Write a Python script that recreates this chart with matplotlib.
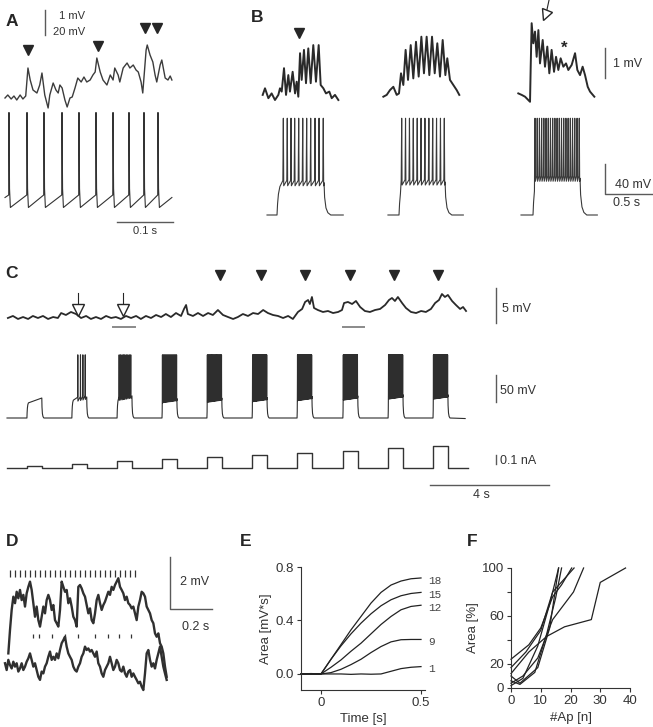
import numpy as np
import matplotlib
matplotlib.use("Agg")
import matplotlib.pyplot as plt
from matplotlib.markers import MarkerStyle
from matplotlib.transforms import Affine2D

plt.rcParams['font.family'] = ['Liberation Sans', 'DejaVu Sans']

W, H = 653, 727
INK = '#262626'
GREY = '#5a5a5a'

# ---------------- A: field potential (mV) over time (ms) + spikes ----------------
a_t = [0, 5, 11, 16, 21, 27, 32, 37, 41, 45, 50, 57, 62, 66, 71, 77, 80, 86, 91, 95,
       98, 102, 107, 111, 116, 120, 125, 130, 136, 141, 146, 152, 157, 161, 164, 170,
       175, 182, 188, 193, 196, 202, 205, 211, 218, 223, 229, 234, 238, 243, 246, 252,
       254, 259, 264, 268, 271, 277, 280, 286, 291, 295, 298]
a_v = [0.08, 0.2, 0.04, 0.16, 0.0, 0.2, 0.04, 0.16, 1.28, 0.8, 0.4, 0.28, 0.6, 1.08,
       0.2, -0.32, 0.2, 0.68, 0.4, 0.28, 0.6, 0.48, 0.0, -0.28, 0.08, 0.12, 0.48, 0.88,
       0.72, 0.92, 0.72, 0.8, 1.0, 1.12, 1.68, 1.12, 0.8, 0.6, 1.0, 0.8, 1.28, 1.0, 0.72,
       1.28, 1.48, 1.28, 1.4, 1.2, 1.12, 0.72, 0.28, 2.0, 2.2, 1.8, 1.52, 1.0, 0.72, 1.4,
       1.6, 0.88, 0.8, 0.96, 0.8]
a_spikes = [7.1, 39.3, 69.6, 101.8, 132.1, 162.5, 192.9, 221.4, 248.2, 273.2]
a_marker_t = [41, 166, 250, 271]
a_marker_v = [2.0, 2.16, 2.88, 2.88]

# ---------------- B: field potential (mV) and membrane potential, 3 stimuli ----------------
b1_t = [-0.149, -0.125, -0.090, -0.056, -0.021, 0.014, 0.031, 0.049, 0.073, 0.094,
        0.118, 0.135, 0.163, 0.188, 0.205, 0.222, 0.240, 0.257, 0.281, 0.302, 0.326,
        0.351, 0.378, 0.406, 0.434, 0.455, 0.483, 0.510, 0.545, 0.570, 0.604, 0.639]
b1_v = [0.17, 0.39, 0.06, 0.22, 0.0, 0.17, 0.39, 0.28, 1.06, 0.17, 0.83, 0.28, 0.94,
        0.22, 0.61, 0.11, 1.56, 0.67, 1.67, 0.56, 1.72, 0.56, 1.83, 0.61, 1.83, 0.5,
        0.39, 0.22, 0.28, 0.06, 0.17, 0.0]
b2_t = [-0.163, -0.128, -0.094, -0.059, -0.024, 0.0, 0.021, 0.045, 0.069, 0.094, 0.122,
        0.149, 0.177, 0.205, 0.233, 0.260, 0.288, 0.316, 0.344, 0.372, 0.399, 0.427,
        0.455, 0.483, 0.503, 0.531, 0.566, 0.601, 0.628]
b2_v = [0.11, 0.17, 0.33, 0.44, 0.17, 0.22, 0.89, 0.5, 1.67, 0.67, 1.83, 0.72, 1.94,
        0.78, 2.11, 0.89, 2.11, 0.83, 2.11, 0.89, 1.89, 0.78, 2.0, 0.83, 1.39, 0.67,
        0.5, 0.33, 0.17]
b3_t = [-0.153, -0.118, -0.083, -0.031, -0.024, -0.014, 0.003, 0.021, 0.038, 0.056,
        0.073, 0.101, 0.125, 0.149, 0.170, 0.194, 0.219, 0.240, 0.264, 0.288, 0.316,
        0.344, 0.368, 0.403, 0.438, 0.462, 0.490, 0.517, 0.542, 0.570, 0.594, 0.639]
b3_v = [0.22, 0.17, 0.11, -0.06, 1.11, 2.56, 1.89, 2.28, 1.44, 2.33, 1.22, 2.0, 1.11,
        1.78, 0.89, 1.67, 0.94, 1.44, 1.0, 1.39, 1.11, 1.22, 1.0, 1.17, 1.56, 1.0, 0.83,
        1.11, 0.83, 0.44, 0.28, 0.11]
b_spikes = [
    [0.066, 0.107, 0.146, 0.184, 0.226, 0.268, 0.309, 0.351, 0.396, 0.438, 0.482],
    [0.028, 0.068, 0.109, 0.149, 0.190, 0.230, 0.270, 0.311, 0.351, 0.391, 0.432, 0.472],
    [0.021, 0.044, 0.067, 0.090, 0.113, 0.136, 0.159, 0.182, 0.205, 0.228, 0.251,
     0.274, 0.297, 0.320, 0.343, 0.366, 0.389, 0.412, 0.435, 0.459, 0.482],
]
b_step_dur = [0.49, 0.48, 0.49]
b_starts = [-0.104, -0.115, -0.125]
b_ends = [0.69, 0.67, 0.67]
b_plateau = [-27, -26, -21]
b_rest, b_peak = -70, 59

# ---------------- C: field potential, membrane potential, injected current ----------------
c_top_t = [0.03, 0.20, 0.37, 0.54, 0.71, 0.87, 1.04, 1.21, 1.38, 1.55, 1.71,
           1.82, 1.98, 2.15, 2.32, 2.49, 2.66, 2.82, 2.99, 3.16, 3.33, 3.50, 3.66, 3.83,
           4.00, 4.17, 4.34, 4.50, 4.67, 4.84, 5.01, 5.18, 5.34, 5.51, 5.68, 5.85,
           5.95, 6.02, 6.08,
           6.25, 6.42, 6.59, 6.76, 6.92, 7.09, 7.26, 7.43, 7.60, 7.76, 7.93, 8.10, 8.27,
           8.44, 8.61, 8.77, 8.94, 9.11, 9.28, 9.45, 9.61, 9.78,
           9.92, 10.02, 10.12, 10.18, 10.25, 10.32, 10.45,
           10.62, 10.79, 10.96, 11.13, 11.26, 11.33, 11.46, 11.60, 11.73, 11.87,
           12.03, 12.20, 12.37, 12.54, 12.71, 12.84, 12.94, 13.04, 13.14, 13.28,
           13.41, 13.58, 13.75, 13.92, 14.08, 14.25, 14.39, 14.52, 14.62, 14.72,
           14.82, 14.96, 15.09, 15.23, 15.33, 15.43]
c_top_v = [0, 0.29, -0.14, 0.14, -0.14, 0.29, 0, 0.29, -0.14, 0.14, 0,
           0.71, 0.43, 0.86, 0.57, 0, 0.29, -0.14, 0.14, -0.14, 0.29, 0, 0.14, -0.14,
           0.29, 0, 0.29, -0.14, 0.29, 0, 0.43, 0.14, 0.57, 0.14, 0.71, 0.29,
           1.29, 1.86, 0.57,
           0.29, 0.71, 0.29, 0.71, 0.43, 1.14, 0.43, 0.14, -0.14, 0.14, 0.57, 0.29, 0.71,
           0.57, 1.14, 0.71, 0.43, 0.29, 0, 0.29, -0.14, 0.86,
           1.29, 2.29, 2.57, 2.0, 3.0, 1.43, 1.14,
           0.86, 1.0, 0.71, 0.86, 1.14, 2.14, 2.29, 2.0, 2.43, 1.57,
           1.0, 0.86, 1.14, 1.29, 1.86, 2.57, 2.86, 2.43, 3.0, 2.14,
           1.43, 0.86, 0.71, 1.0, 0.86, 1.29, 2.14, 2.57, 3.43, 3.0,
           3.29, 2.43, 1.86, 1.29, 1.57, 1.0]
c_onsets = [0.67, 2.18, 3.70, 5.21, 6.72, 8.24, 9.75, 11.29, 12.81, 14.32]
c_step_dur = 0.5
c_current = [0.02, 0.05, 0.075, 0.10, 0.12, 0.145, 0.17, 0.19, 0.22, 0.245]
c_plateau_start = [-42, -37, -34, -38, -37, -36, -34, -33, -31, -31]
c_plateau_end = [-33, -31, -29, -34, -33, -32, -30, -29, -27, -27]
c_spikes_early = [[], [0.20, 0.29, 0.37, 0.45],
                  [0.07, 0.12, 0.17, 0.22, 0.26, 0.31, 0.36, 0.41, 0.46]]
c_burst_counts = [14, 18, 20, 22, 24, 25, 26]
c_rest, c_spike_peak = -70, 47
c_trace_end = 15.4
c_filled_t = [7.16, 8.54, 10.02, 11.53, 13.01, 14.49]
c_open_t = [2.39, 3.90]
c_underlines = [(3.56, 4.30), (11.29, 12.0)]

# ---------------- D: two field potential sweeps (mV), sampled every 1/126 s ----------------
d_dt = 1 / 126
d_up_t0 = 0.0016
d_up_v = [0.37, 1.27, 2.04, 2.55, 2.30, 2.74, 2.49, 2.81, 2.42, 2.62,
          2.17, 2.68, 2.93, 3.13, 2.81, 2.30, 1.78, 2.17, 1.65, 1.40,
          1.78, 2.17, 1.91, 2.42, 2.62, 2.42, 2.04, 2.23, 1.65, 1.53,
          1.40, 2.04, 3.13, 2.93, 2.74, 2.81, 2.30, 2.49, 2.17, 1.78,
          1.65, 1.40, 2.93, 3.00, 2.87, 2.68, 2.55, 2.23, 1.91, 2.10,
          1.65, 1.53, 1.91, 2.42, 2.62, 2.30, 2.04, 2.23, 2.36, 2.55,
          2.74, 2.62, 2.93, 2.81, 3.00, 3.13, 3.26, 2.93, 2.81, 2.68,
          2.42, 2.55, 2.30, 2.23, 2.10, 2.17, 1.91, 1.65, 2.17, 2.42,
          2.74, 2.68, 2.55, 2.17, 2.04, 1.91, 1.65, 1.53, 1.14, 1.01,
          1.14, 0.76, 0.63, 0.37, -0.14, -0.53]
d_low_t0 = -0.0143
d_low_v = [-0.01, -0.27, 0.12, -0.08, -0.21, 0.05, -0.14, -0.01, -0.33, -0.21,
           -0.01, -0.27, -0.14, 0.05, 0.18, 0.37, 0.12, -0.14, -0.01, -0.27,
           -0.53, -0.65, -0.33, -0.40, -0.14, -0.01, 0.24, 0.44, 0.12, 0.24,
           0.12, 0.37, 0.18, 0.50, 0.76, 0.88, 1.01, 0.63, 0.37, 0.24,
           0.12, -0.14, -0.27, -0.33, -0.14, -0.01, 0.24, 0.37, 0.63, 0.50,
           0.56, 0.44, 0.50, 0.37, 0.24, 0.44, -0.01, -0.14, -0.40, -0.53,
           -0.27, -0.14, -0.01, 0.24, -0.01, -0.27, -0.14, 0.12, -0.01, -0.27,
           -0.33, -0.14, -0.40, -0.53, -0.33, -0.27, -0.53, -0.40, -0.53, -0.65,
           -0.78, -0.72, -0.91, -1.04, -0.40, 0.37, 0.50, 0.12, -0.14, -0.01,
           -0.21, 0.12, 0.37, 0.63, 0.24, -0.14, -0.40, -0.65]
d_stim_top = [0.010, 0.033, 0.057, 0.081, 0.105, 0.129, 0.152, 0.176, 0.200, 0.224,
              0.248, 0.271, 0.295, 0.319, 0.343, 0.367, 0.390, 0.414, 0.438, 0.462,
              0.486, 0.509, 0.533, 0.557, 0.581, 0.605]
d_stim_low = [0.121, 0.148, 0.211, 0.271, 0.335, 0.414, 0.475, 0.530, 0.584]

# ---------------- E: cumulative area (mV*s) vs time ----------------
e_t = [-0.1, -0.05, 0, 0.05, 0.1, 0.15, 0.2, 0.25, 0.3, 0.35, 0.4, 0.45, 0.5]
e_curves = {
    '18': [0.0, 0.003, 0.0, 0.11, 0.22, 0.33, 0.43, 0.53, 0.61, 0.665, 0.695, 0.712, 0.718],
    '15': [0.0, 0.0, 0.0, 0.11, 0.21, 0.30, 0.38, 0.45, 0.51, 0.555, 0.585, 0.602, 0.61],
    '12': [0.0, 0.0, 0.0, 0.05, 0.105, 0.17, 0.23, 0.30, 0.37, 0.43, 0.48, 0.505, 0.514],
    '9': [0.0, 0.0, 0.0, 0.01, 0.035, 0.07, 0.11, 0.16, 0.205, 0.24, 0.256, 0.258, 0.258],
    '1': [0.0, 0.0, 0.0, 0.0, 0.0, -0.003, 0.0, -0.002, 0.0, 0.02, 0.04, 0.05, 0.055],
}

# ---------------- F: area (%) vs number of action potentials ----------------
f_x = [[0, 6, 10, 14, 17, 20.4],
       [0, 5, 10, 14, 21.2],
       [0, 4, 9, 14, 21, 24.4],
       [0, 3, 9, 13, 16],
       [0, 3, 8, 12, 15, 17],
       [0, 4, 9, 13, 16],
       [0, 6, 12, 18, 27, 30, 38.5]]
f_y = [[24, 36, 50, 76, 86, 100],
       [17, 30, 48, 80, 100],
       [4, 10, 25, 57, 80, 100],
       [10, 4, 17, 50, 100],
       [6, 3, 13, 45, 75, 100],
       [2, 8, 35, 70, 100],
       [12, 30, 43, 51, 57, 88, 100]]

fig = plt.figure(figsize=(W / 100, H / 100), dpi=100)
fig.patch.set_facecolor('white')


def trace_axes(box, xref, yref):
    """box in figure pixels (left, top, right, bottom); refs = (pixel, value, pixels per unit)."""
    left, top, right, bottom = box
    ax = fig.add_axes([left / W, 1 - bottom / H, (right - left) / W, (bottom - top) / H])
    xp, xv, xs = xref
    yp, yv, ys = yref
    ax.set_xlim(xv + (left - xp) / xs, xv + (right - xp) / xs)
    ax.set_ylim(yv - (bottom - yp) / ys, yv - (top - yp) / ys)
    ax.axis('off')
    return ax


def letter(x, y, s):
    fig.text(x / W, 1 - y / H, s, fontsize=12.5, fontweight='bold', color=INK,
             ha='left', va='center')


def spike_train(spikes, t0, t1, v0, v1, thresh, peak, ahp):
    t, v = [t0], [v0]
    for s in spikes:
        t += [s - 0.5, s, s + 1.0, s + 2.5]
        v += [thresh, peak, thresh + 5, ahp]
    t.append(t1)
    v.append(v1)
    return t, v


RISE = [(0.006, 0.35), (0.015, 0.65), (0.03, 0.88), (0.05, 1.0)]
FALL = [(0.006, 0.55), (0.02, 0.22), (0.04, 0.07), (0.07, 0.0)]


def step_response(onset, dur, base, p0, p1, spikes, peak):
    t, v = [onset], [base]
    first = spikes[0] if len(spikes) else dur
    for dt, f in RISE:
        if dt < first - 0.006:
            t.append(onset + dt)
            v.append(base + f * (p0 - base))
    for s in spikes:
        lvl = p0 + (p1 - p0) * s / dur
        t += [onset + s - 0.005, onset + s, onset + s + 0.004]
        v += [lvl + 3, peak, lvl - 4]
    t.append(onset + dur)
    v.append(p1)
    for dt, f in FALL:
        t.append(onset + dur + dt)
        v.append(base + f * (p1 - base))
    return t, v


def scale_text(ax, x, y, s, size=8.5, ha='left'):
    ax.text(x, y, s, fontsize=size, color='#333333', ha=ha, va='center')


# ======================= A =======================
letter(6, 21, 'A')
ax = trace_axes((0, 3, 185, 118), (5, 0, 0.56), (100, 0, 25))
ax.plot(a_t, a_v, color='#3c3c3c', lw=1.0)
ax.plot(a_marker_t, a_marker_v, 'v', color=INK, ms=7)
ax.plot([71.4, 71.4], [2.6, 3.6], color=GREY, lw=1, clip_on=False)
scale_text(ax, 143, 3.36, '1 mV', 8, ha='right')
scale_text(ax, 143, 2.72, '20 mV', 8, ha='right')

ax = trace_axes((0, 100, 185, 245), (5, 0, 0.56), (195, -50, 1.25))
t, v = spike_train(a_spikes, 0, 298, -52, -52, -50, 16, -60)
ax.plot(t, v, color='#333333', lw=0.8)
ax.plot([200, 300], [-71.6, -71.6], color=GREY, lw=1)
scale_text(ax, 250, -79, '0.1 s', 8, ha='center')

# ======================= B =======================
letter(251, 18, 'B')
b_onset_px = [277, 399, 533]
b_tops = [(b1_t, b1_v), (b2_t, b2_v), (b3_t, b3_v)]
for g in range(3):
    o = b_onset_px[g]
    right = o + 75 if g < 2 else W
    ax_top = trace_axes((o - 25, 0, right, 112), (o, 0, 96), (100, 0, 30))
    ax_top.plot(*b_tops[g], color='#2a2a2a', lw=1.4)
    ax_bot = trace_axes((o - 25, 105, right, 225), (o, 0, 96), (215, -70, 0.75))
    t, v = step_response(0.0, b_step_dur[g], b_rest, b_plateau[g], b_plateau[g],
                         b_spikes[g], b_peak)
    ax_bot.plot([b_starts[g]] + t + [b_ends[g]], [b_rest] + v + [b_rest],
                color='#3a3a3a', lw=0.8)
    if g == 0:
        ax_top.plot([0.229], [2.23], 'v', color=INK, ms=7)
    if g == 2:
        ax_top.plot([0.167, 0.146], [3.33, 3.02], color=INK, lw=0.8, clip_on=False)
        ax_top.plot([0.125], [2.83], marker=MarkerStyle('v', transform=Affine2D().rotate_deg(-22)),
                    ms=8, mfc='white', mec=INK, mew=1, ls='none')
        ax_top.text(0.323, 1.72, '*', fontsize=12, fontweight='bold', color=INK,
                    ha='center', va='center')
        ax_top.plot([0.75, 0.75], [0.73, 1.73], color=GREY, lw=1)
        scale_text(ax_top, 0.83, 1.2, '1 mV', 9)
        ax_bot.plot([0.75, 0.75, 1.25], [-2, -42, -42], color=GREY, lw=1, clip_on=False)
        scale_text(ax_bot, 0.85, -30, '40 mV', 9)
        scale_text(ax_bot, 0.83, -54, '0.5 s', 9)

# ======================= C =======================
letter(5, 273, 'C')
c_xref = (7, 0, 29.75)
ax = trace_axes((0, 262, 560, 340), c_xref, (318, 0, 7))
ax.plot(c_top_t, c_top_v, color='#2a2a2a', lw=1.3)
ax.plot(c_filled_t, [6.14] * len(c_filled_t), 'v', color=INK, ms=7)
for tt in c_open_t:
    ax.plot([tt, tt], [1.86, 3.57], color=INK, lw=0.8)
    ax.plot([tt], [1.14], 'v', ms=8, mfc='white', mec=INK, mew=1)
for t0, t1 in c_underlines:
    ax.plot([t0, t1], [-1.25, -1.25], color='#8a8a8a', lw=1.4)
ax.plot([16.44, 16.44], [-0.71, 4.29], color=GREY, lw=1)
scale_text(ax, 16.64, 1.29, '5 mV', 9)

ax = trace_axes((0, 340, 560, 432), c_xref, (418, -70, 0.54))
c_t, c_v = [0.0], [c_rest]
for k, onset in enumerate(c_onsets):
    if k < 3:
        sp = c_spikes_early[k]
    else:
        sp = list(np.linspace(0.015, 0.49, c_burst_counts[k - 3]))
    t, v = step_response(onset, c_step_dur, c_rest, c_plateau_start[k], c_plateau_end[k],
                         sp, c_spike_peak)
    c_t += t
    c_v += v
c_t.append(c_trace_end)
c_v.append(c_rest - 1)
ax.plot(c_t, c_v, color='#2e2e2e', lw=0.8)
ax.plot([16.44, 16.44], [-40.4, 9.6], color=GREY, lw=1)
scale_text(ax, 16.57, -19.4, '50 mV', 9)

ax = trace_axes((0, 436, 560, 510), c_xref, (468, 0, 90))
i_t, i_v = [0.0], [0.0]
for onset, amp in zip(c_onsets, c_current):
    i_t += [onset, onset, onset + c_step_dur, onset + c_step_dur]
    i_v += [0, amp, amp, 0]
i_t.append(15.5)
i_v.append(0)
ax.plot(i_t, i_v, color='#333333', lw=1.0)
ax.plot([16.44, 16.44], [0.044, 0.144], color=GREY, lw=1)
scale_text(ax, 16.57, 0.078, '0.1 nA', 9)
ax.plot([14.22, 18.22], [-0.189, -0.189], color=GREY, lw=1)
scale_text(ax, 15.95, -0.30, '4 s', 9, ha='center')

# ======================= D =======================
letter(6, 542, 'D')
ax = trace_axes((0, 550, 225, 700), (8, 0, 210), (663, 0, 26))
ax.plot(d_up_t0 + d_dt * np.arange(len(d_up_v)), d_up_v, color='#303030', lw=1.7)
ax.plot(d_low_t0 + d_dt * np.arange(len(d_low_v)), d_low_v, color='#303030', lw=1.7)
ax.vlines(d_stim_top, 3.31, 3.58, color='#333333', lw=0.9)
ax.vlines(d_stim_low, 0.96, 1.12, color='#333333', lw=0.9)
ax.plot([0.771, 0.771, 0.971], [4.08, 2.08, 2.08], color=GREY, lw=1)
scale_text(ax, 0.819, 3.12, '2 mV', 9)
scale_text(ax, 0.829, 1.38, '0.2 s', 9)


# ======================= E / F axes =======================
def style_axes(ax):
    ax.set_facecolor('none')
    for side in ('top', 'right'):
        ax.spines[side].set_visible(False)
    for side in ('left', 'bottom'):
        ax.spines[side].set_color('#333333')
        ax.spines[side].set_linewidth(0.8)
    ax.tick_params(direction='out', length=3, width=0.8, colors='#333333',
                   labelsize=9.5, pad=2)


letter(240, 542, 'E')
ax = fig.add_axes([301 / W, 1 - 690 / H, 124 / W, 123 / H])
style_axes(ax)
for lab, vals in e_curves.items():
    ax.plot(e_t, vals, color='#222222', lw=0.9, clip_on=False)
    ax.text(0.535, vals[-1] - 0.02, lab, fontsize=8, color='#444444',
            family=['Liberation Mono', 'DejaVu Sans Mono'], ha='left', va='center')
ax.set_xlim(-0.1, 0.52)
ax.set_ylim(-0.12, 0.8)
ax.set_yticks([0.0, 0.4, 0.8])
ax.set_yticklabels(['0.0', '0.4', '0.8'])
ax.set_xticks([0, 0.5])
ax.set_xticklabels(['0', '0.5'])
ax.set_xlabel('Time [s]', fontsize=9.5, color='#333333', labelpad=3)
ax.set_ylabel('Area [mV*s]', fontsize=9.5, color='#333333', labelpad=3)

letter(467, 542, 'F')
ax = fig.add_axes([511 / W, 1 - 688 / H, 119 / W, 120 / H])
style_axes(ax)
for xs, ys in zip(f_x, f_y):
    ax.plot(xs, ys, color='#222222', lw=0.9, clip_on=False)
ax.set_xlim(0, 40)
ax.set_ylim(0, 100)
ax.set_xticks([0, 10, 20, 30, 40])
ax.set_yticks([0, 20, 40, 60, 80, 100])
ax.set_yticklabels(['0', '20', '', '60', '', '100'])
ax.set_xlabel('#Ap [n]', fontsize=9.5, color='#333333', labelpad=4)
ax.set_ylabel('Area [%]', fontsize=9.5, color='#333333', labelpad=2)

fig.savefig('out.png', dpi=100)
